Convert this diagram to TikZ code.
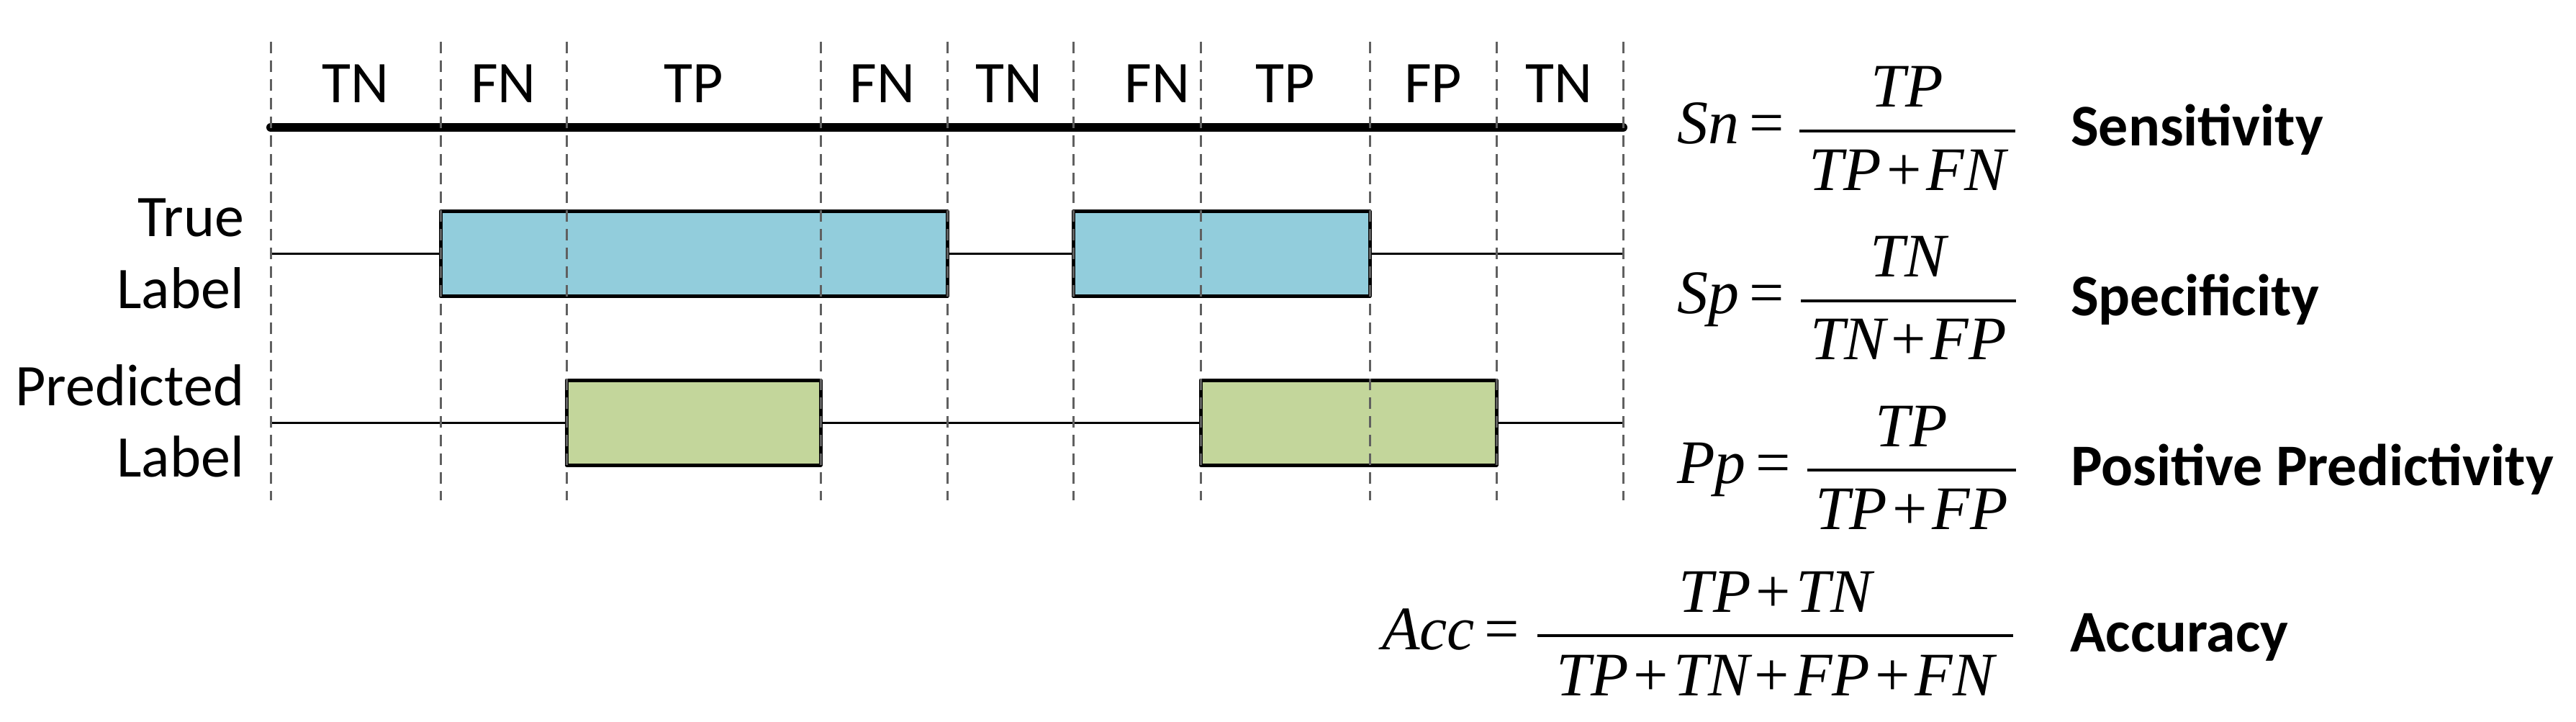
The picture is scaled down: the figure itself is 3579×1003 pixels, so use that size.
\documentclass[tikz,border=0pt]{standalone}
\usepackage{fontspec}
\setmainfont{Carlito}
\newfontfamily\tnrfont{Liberation Serif}
\definecolor{trueblue}{HTML}{92CDDC}
\definecolor{predgreen}{HTML}{C3D69B}
\definecolor{dashgray}{HTML}{606060}
\newcommand{\mvar}[1]{{\tnrfont\itshape #1}}
\newcommand{\mplus}{\hspace{7pt}{\tnrfont +}\hspace{7pt}}
\newcommand{\meq}{\hspace{14pt}{\tnrfont =}}
\begin{document}
\begin{tikzpicture}[x=1pt,y=-1pt,
  lbl/.style={font=\fontsize{82}{98}\selectfont, inner sep=0pt, outer sep=0pt},
  blbl/.style={inner sep=0pt, outer sep=0pt, font=\fontsize{82}{98}\selectfont\bfseries},
  fml/.style={font=\fontsize{86}{100}\selectfont, inner sep=0pt, outer sep=0pt},
  sepline/.style={draw=dashgray, line width=3pt, dash pattern=on 16pt off 10pt},
  axisline/.style={line width=12pt, line cap=round},
  sigline/.style={line width=3pt},
  tbox/.style={draw, line width=5pt, line join=round, fill=trueblue, inner sep=0pt, outer sep=0pt},
  pbox/.style={tbox, fill=predgreen},
  fbar/.style={line width=4pt}]
\useasboundingbox (0,0) rectangle (3579,1003);

% signal baselines
\coordinate (tl0) at (376,352.5);
\coordinate (tl1) at (2255,352.5);
\coordinate (pl0) at (376,587);
\coordinate (pl1) at (2255,587);
\draw[sigline] (tl0) -- (tl1);
\draw[sigline] (pl0) -- (pl1);

% true label boxes
\node[tbox, minimum width=704pt, minimum height=118pt] (tb1) at (964,352.5) {};
\node[tbox, minimum width=412pt, minimum height=118pt] (tb2) at (1697,352.5) {};
% predicted label boxes
\node[pbox, minimum width=353pt, minimum height=118pt] (pb1) at (963.5,587) {};
\node[pbox, minimum width=411pt, minimum height=118pt] (pb2) at (1873.5,587) {};

% top axis
\coordinate (ax0) at (376,177);
\coordinate (ax1) at (2255,177);
\draw[axisline] (ax0) -- (ax1);

% dashed separators
\foreach \x [count=\i from 0] in {376,612,787,1140,1316,1491,1668,1903,2079,2255}{
  \coordinate (dt\i) at (\x,58);
  \coordinate (db\i) at (\x,695);
  \draw[sepline] (dt\i) -- (db\i);
}

% segment labels
\node[lbl, anchor=base] (s1) at (494,143) {TN};
\node[lbl, anchor=base] (s2) at (699.5,143) {FN};
\node[lbl, anchor=base] (s3) at (963.5,143) {TP};
\node[lbl, anchor=base] (s4) at (1226,143) {FN};
\node[lbl, anchor=base] (s5) at (1402,143) {TN};
\node[lbl, anchor=base] (s6) at (1608,143) {FN};
\node[lbl, anchor=base] (s7) at (1785.5,143) {TP};
\node[lbl, anchor=base] (s8) at (1991,143) {FP};
\node[lbl, anchor=base] (s9) at (2166,143) {TN};

% row labels
\node[lbl, anchor=base east] (trA) at (339,328) {True};
\node[lbl, anchor=base east] (trB) at (339,428) {Label};
\node[lbl, anchor=base east] (prA) at (339,563) {Predicted};
\node[lbl, anchor=base east] (prB) at (339,662) {Label};

% Sensitivity
\node[fml, anchor=base west] (snl) at (2330,200) {\mvar{Sn}\meq};
\coordinate (sna) at (2500,182.5);
\coordinate (snb) at (2800,182.5);
\draw[fbar] (sna) -- (snb);
\node[fml, anchor=base] (snn) at (2650,149) {\mvar{TP}};
\node[fml, anchor=base] (snd) at (2650,264) {\mvar{TP}\mplus\mvar{FN}};
\node[blbl, anchor=base west] (snt) at (2877,203) {Sensitivity};

% Specificity
\node[fml, anchor=base west] (spl) at (2330,435) {\mvar{Sp}\meq};
\coordinate (spa) at (2502,417.5);
\coordinate (spb) at (2801,417.5);
\draw[fbar] (spa) -- (spb);
\node[fml, anchor=base] (spn) at (2651.5,384) {\mvar{TN}};
\node[fml, anchor=base] (spd) at (2651.5,499) {\mvar{TN}\mplus\mvar{FP}};
\node[blbl, anchor=base west] (spt) at (2877,438) {Specificity};

% Positive predictivity
\node[fml, anchor=base west] (ppl) at (2330,671) {\mvar{Pp}\meq};
\coordinate (ppa) at (2511,653);
\coordinate (ppb) at (2801,653);
\draw[fbar] (ppa) -- (ppb);
\node[fml, anchor=base] (ppn) at (2656,620) {\mvar{TP}};
\node[fml, anchor=base] (ppd) at (2656,735) {\mvar{TP}\mplus\mvar{FP}};
\node[blbl, anchor=base west] (ppt) at (2877,674) {Positive Predictivity};

% Accuracy
\node[fml, anchor=base west] (acl) at (1920,902) {\mvar{Acc}\meq};
\coordinate (aca) at (2136,883);
\coordinate (acb) at (2797,883);
\draw[fbar] (aca) -- (acb);
\node[fml, anchor=base] (acn) at (2466.5,850) {\mvar{TP}\mplus\mvar{TN}};
\node[fml, anchor=base] (acd) at (2466.5,966) {\mvar{TP}\mplus\mvar{TN}\mplus\mvar{FP}\mplus\mvar{FN}};
\node[blbl, anchor=base west] (act) at (2876,905) {Accuracy};
\end{tikzpicture}
\end{document}
